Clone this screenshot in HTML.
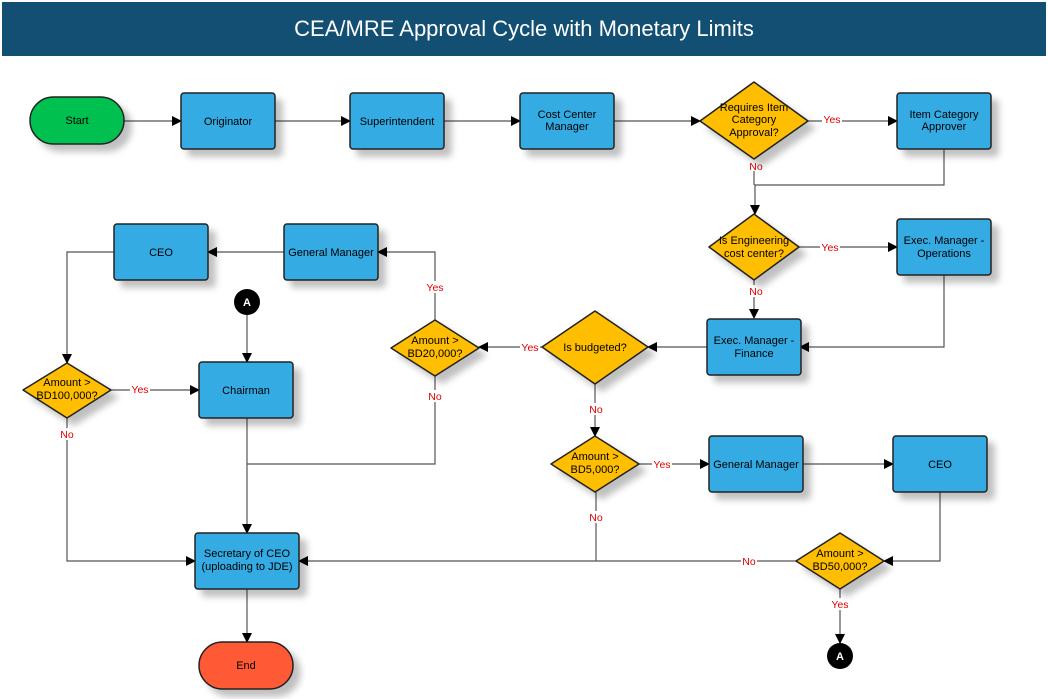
<!DOCTYPE html>
<html><head><meta charset="utf-8"><style>
html,body{margin:0;padding:0;background:#fff;}
svg{display:block;font-family:"Liberation Sans",sans-serif;}
</style></head><body>
<svg width="1048" height="699" viewBox="0 0 1048 699" xmlns="http://www.w3.org/2000/svg">
<defs>
<marker id="ar" markerWidth="10" markerHeight="10" refX="9" refY="5" orient="auto" markerUnits="userSpaceOnUse"><path d="M0,0 L10,5 L0,10 z" fill="#000"/></marker>
<filter id="sh" x="-20%" y="-20%" width="160%" height="160%"><feGaussianBlur in="SourceAlpha" stdDeviation="3.5"/><feOffset dx="7" dy="7"/><feComponentTransfer><feFuncA type="linear" slope="0.25"/></feComponentTransfer><feMerge><feMergeNode/><feMergeNode in="SourceGraphic"/></feMerge></filter>
</defs>
<rect x="2" y="2" width="1044" height="54" fill="#124f72"/>
<text x="524" y="36" font-size="22" fill="#fff" text-anchor="middle">CEA/MRE Approval Cycle with Monetary Limits</text>

<g stroke="#555" stroke-width="1.2" fill="none" marker-end="url(#ar)">
<path d="M124,121 H181"/>
<path d="M275,121 H350"/>
<path d="M444,121 H520"/>
<path d="M614,121 H700"/>
<path d="M808,121 H897"/>
<path d="M944,149 V185 H755 V214"/>
<path d="M754,159 V185" marker-end="none"/>
<path d="M799,247 H897"/>
<path d="M754,280 V318"/>
<path d="M944,275 V347 H800"/>
<path d="M707,347 H648"/>
<path d="M542,347 H479"/>
<path d="M435,320 V252 H378"/>
<path d="M284,252 H208"/>
<path d="M114,252 H67 V363"/>
<path d="M111,390 H199"/>
<path d="M247,315 V362"/>
<path d="M595,384 V436"/>
<path d="M639,464 H709"/>
<path d="M803,464 H893"/>
<path d="M940,492 V561 H884"/>
<path d="M796,561 H299"/>
<path d="M596,492 V561" marker-end="none"/>
<path d="M435,376 V464 H247" marker-end="none"/>
<path d="M247,418 V533"/>
<path d="M67,418 V561 H195"/>
<path d="M247,589 V642"/>
<path d="M840,589 V643"/>
</g>

<g font-size="10.5" fill="#e00000" text-anchor="middle">
<rect x="822" y="113" width="20" height="12" fill="#fff"/><text x="832" y="123">Yes</text>
<rect x="748" y="159" width="16" height="12" fill="#fff"/><text x="756" y="170">No</text>
<rect x="820" y="241" width="20" height="12" fill="#fff"/><text x="830" y="251">Yes</text>
<rect x="748" y="285" width="16" height="12" fill="#fff"/><text x="756" y="295">No</text>
<rect x="520" y="341" width="20" height="12" fill="#fff"/><text x="530" y="351">Yes</text>
<rect x="425" y="281" width="20" height="12" fill="#fff"/><text x="435" y="291">Yes</text>
<rect x="427" y="390" width="16" height="12" fill="#fff"/><text x="435" y="400">No</text>
<rect x="130" y="383" width="20" height="12" fill="#fff"/><text x="140" y="393">Yes</text>
<rect x="59" y="428" width="16" height="12" fill="#fff"/><text x="67" y="438">No</text>
<rect x="588" y="403" width="16" height="12" fill="#fff"/><text x="596" y="413">No</text>
<rect x="652" y="458" width="20" height="12" fill="#fff"/><text x="662" y="468">Yes</text>
<rect x="588" y="511" width="16" height="12" fill="#fff"/><text x="596" y="521">No</text>
<rect x="741" y="555" width="16" height="12" fill="#fff"/><text x="749" y="565">No</text>
<rect x="830" y="598" width="20" height="12" fill="#fff"/><text x="840" y="608">Yes</text>
</g>

<g filter="url(#sh)" stroke="#222" stroke-width="1.5">
<rect x="30" y="97" width="94" height="47" rx="23.5" fill="#00c050"/>
<rect x="199" y="642" width="94" height="47" rx="23.5" fill="#ff5a36"/>
<g fill="#36abe4">
<rect x="181" y="93" width="94" height="56" rx="3"/>
<rect x="350" y="93" width="94" height="56" rx="3"/>
<rect x="520" y="93" width="94" height="56" rx="3"/>
<rect x="897" y="93" width="94" height="56" rx="3"/>
<rect x="897" y="219" width="94" height="56" rx="3"/>
<rect x="707" y="319" width="94" height="56" rx="3"/>
<rect x="284" y="224" width="94" height="56" rx="3"/>
<rect x="114" y="224" width="94" height="56" rx="3"/>
<rect x="199" y="362" width="94" height="56" rx="3"/>
<rect x="709" y="436" width="94" height="56" rx="3"/>
<rect x="893" y="436" width="94" height="56" rx="3"/>
<rect x="195" y="533" width="104" height="56" rx="3"/>
</g>
<g fill="#ffbf00" stroke-linejoin="round">
<path d="M754,82 L808,121 L754,159 L700,121 Z"/>
<path d="M754,214 L799,247 L754,280 L709,247 Z"/>
<path d="M595,311 L648,347 L595,384 L542,347 Z"/>
<path d="M435,320 L479,348 L435,376 L391,348 Z"/>
<path d="M67,363 L111,390 L67,418 L23,390 Z"/>
<path d="M595,436 L639,464 L595,492 L551,464 Z"/>
<path d="M840,533 L884,561 L840,589 L796,561 Z"/>
</g>
</g>
<circle cx="247" cy="302" r="13" fill="#000"/>
<circle cx="840" cy="656" r="13" fill="#000"/>
<g font-size="11" font-weight="bold" fill="#fff" text-anchor="middle"><text x="247" y="306">A</text><text x="840" y="660">A</text></g>

<g font-size="11" fill="#000" text-anchor="middle">
<text x="77" y="124">Start</text>
<text x="228" y="125">Originator</text>
<text x="397" y="125">Superintendent</text>
<text x="567" y="118">Cost Center</text><text x="567" y="130">Manager</text>
<text x="754" y="111">Requires Item</text><text x="754" y="123">Category</text><text x="754" y="136">Approval?</text>
<text x="944" y="118">Item Category</text><text x="944" y="130">Approver</text>
<text x="754" y="244">Is Engineering</text><text x="754" y="257">cost center?</text>
<text x="944" y="244">Exec. Manager -</text><text x="944" y="257">Operations</text>
<text x="754" y="344">Exec. Manager -</text><text x="754" y="357">Finance</text>
<text x="595" y="351">Is budgeted?</text>
<text x="435" y="344">Amount &gt;</text><text x="435" y="357">BD20,000?</text>
<text x="331" y="256">General Manager</text>
<text x="161" y="256">CEO</text>
<text x="246" y="394">Chairman</text>
<text x="67" y="386">Amount &gt;</text><text x="67" y="399">BD100,000?</text>
<text x="595" y="460">Amount &gt;</text><text x="595" y="473">BD5,000?</text>
<text x="756" y="468">General Manager</text>
<text x="940" y="468">CEO</text>
<text x="840" y="557">Amount &gt;</text><text x="840" y="570">BD50,000?</text>
<text x="247" y="557">Secretary of CEO</text><text x="247" y="570">(uploading to JDE)</text>
<text x="246" y="669">End</text>
</g>
</svg>
</body></html>
